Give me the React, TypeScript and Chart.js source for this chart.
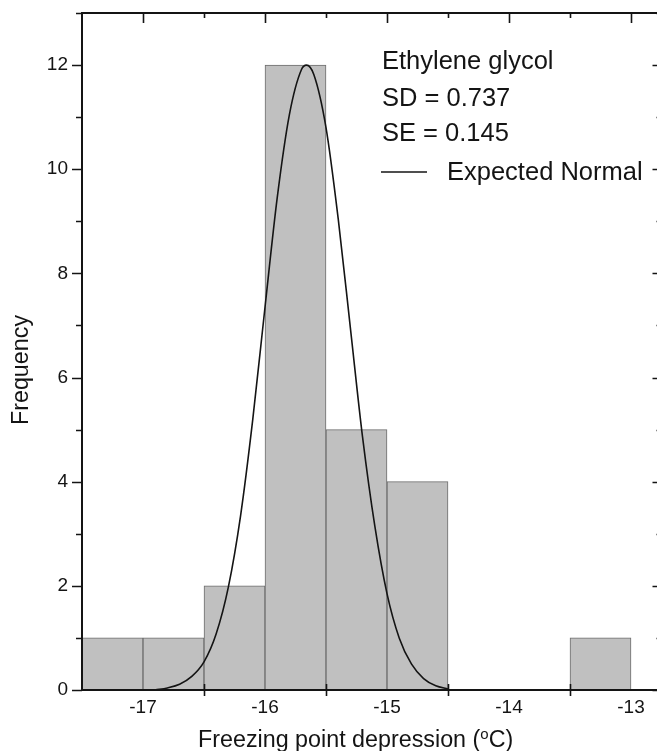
import React, { useEffect, useRef } from 'react';
import { Chart, registerables } from 'chart.js';

Chart.register(...registerables);

// Histogram bins (bin centres, width 0.5 °C) and counts
const binCenters = [-17.25, -16.75, -16.25, -15.75, -15.25, -14.75, -14.25, -13.75, -13.25];
const binCounts = [1, 1, 2, 12, 5, 4, 0, 0, 1];

// Expected normal curve
const curveX = [-16.9, -16.8, -16.7, -16.6, -16.5, -16.4, -16.3, -16.2, -16.1, -16.0, -15.9, -15.8, -15.7, -15.66, -15.6, -15.5, -15.4, -15.3, -15.2, -15.1, -15.0, -14.9, -14.8, -14.7, -14.6, -14.5];
const curveY = [0.0, 0.04, 0.11, 0.26, 0.54, 1.08, 1.98, 3.35, 5.2, 7.35, 9.45, 11.05, 11.92, 12.0, 11.82, 10.8, 9.05, 6.95, 4.85, 3.15, 1.85, 1.0, 0.5, 0.22, 0.08, 0.02];

const xMin = -17.5;
const xMax = -12.75;
const yMin = 0;
const yMax = 13;

const legendLines = ['Ethylene glycol', 'SD = 0.737', 'SE = 0.145'];
const curveLabel = 'Expected Normal';
const xTitleMain = 'Freezing point depression (';
const xTitleSup = 'o';
const xTitleEnd = 'C)';
const yTitle = 'Frequency';

const FONT = '"Liberation Sans", Arial, Helvetica, sans-serif';
const INK = '#141414';

const framePlugin = {
  id: 'framePlugin',
  afterDatasetsDraw(chart: any) {
    const { ctx, chartArea, scales } = chart;
    const xs = scales.x;
    const ys = scales.y;
    const { left, right, top, bottom } = chartArea;
    ctx.save();
    ctx.strokeStyle = INK;
    ctx.lineWidth = 2;
    ctx.lineCap = 'butt';
    // frame
    ctx.beginPath();
    ctx.moveTo(left, top);
    ctx.lineTo(right, top);
    ctx.moveTo(right, top);
    ctx.lineTo(right, bottom);
    ctx.moveTo(left - 1, bottom);
    ctx.lineTo(right, bottom);
    ctx.moveTo(left, top - 1);
    ctx.lineTo(left, bottom + 1);
    ctx.stroke();

    ctx.lineWidth = 1.6;
    ctx.beginPath();
    // y ticks: left outward, right inward
    for (let v = yMin; v <= yMax; v += 1) {
      const py = Math.round(ys.getPixelForValue(v)) + 0.5;
      const major = v % 2 === 0;
      const len = major ? 10 : 6;
      ctx.moveTo(left - len, py);
      ctx.lineTo(left, py);
      ctx.moveTo(right, py);
      ctx.lineTo(right - (major ? 9 : 5), py);
    }
    // x ticks: top inward, bottom crossing at half values
    for (let v = xMin + 0.5; v < xMax; v += 0.5) {
      const px = Math.round(xs.getPixelForValue(v)) + 0.5;
      const major = Math.abs(v - Math.round(v)) < 1e-6;
      ctx.moveTo(px, top);
      ctx.lineTo(px, top + (major ? 10 : 5));
      if (!major) {
        ctx.moveTo(px, bottom - 6);
        ctx.lineTo(px, bottom + 6);
      }
    }
    ctx.stroke();

    // legend block
    ctx.fillStyle = INK;
    ctx.font = `25.5px ${FONT}`;
    ctx.textAlign = 'left';
    ctx.textBaseline = 'alphabetic';
    const baselines = [69, 106, 141];
    legendLines.forEach((t, i) => ctx.fillText(t, 382, baselines[i]));
    ctx.lineWidth = 1.5;
    ctx.beginPath();
    ctx.moveTo(381, 172);
    ctx.lineTo(427, 172);
    ctx.stroke();
    ctx.fillText(curveLabel, 447, 180);

    // x axis title with superscript
    ctx.font = `23.3px ${FONT}`;
    let x0 = 198;
    const base = 747;
    ctx.fillText(xTitleMain, x0, base);
    x0 += ctx.measureText(xTitleMain).width;
    ctx.font = `15px ${FONT}`;
    ctx.fillText(xTitleSup, x0, base - 8);
    x0 += ctx.measureText(xTitleSup).width;
    ctx.font = `23.3px ${FONT}`;
    ctx.fillText(xTitleEnd, x0, base);

    // y axis title
    ctx.save();
    ctx.translate(28, 370);
    ctx.rotate(-Math.PI / 2);
    ctx.textAlign = 'center';
    ctx.fillText(yTitle, 0, 0);
    ctx.restore();

    ctx.restore();
  },
};

export default function App() {
  const canvasRef = useRef<HTMLCanvasElement | null>(null);

  useEffect(() => {
    const canvas = canvasRef.current;
    if (!canvas) return;
    const barData = binCenters.map((x, i) => ({ x, y: binCounts[i] > 0 ? binCounts[i] : null }));
    const lineData = curveX.map((x, i) => ({ x, y: curveY[i] }));
    const chart = new Chart(canvas, {
      type: 'bar',
      data: {
        datasets: [
          {
            type: 'line',
            label: curveLabel,
            data: lineData as any,
            borderColor: INK,
            borderWidth: 1.6,
            pointRadius: 0,
            cubicInterpolationMode: 'monotone',
            fill: false,
            order: 0,
          } as any,
          {
            type: 'bar',
            label: 'Frequency',
            data: barData as any,
            backgroundColor: '#c0c0c0',
            borderColor: '#6c6c6c',
            borderWidth: 1,
            barPercentage: 1,
            categoryPercentage: 1,
            order: 1,
          } as any,
        ],
      },
      options: {
        animation: false,
        responsive: false,
        devicePixelRatio: 1,
        layout: { padding: { top: 13, right: 8.5, left: 0, bottom: 0 } },
        plugins: {
          legend: { display: false },
          tooltip: { enabled: false },
        },
        scales: {
          x: {
            type: 'linear',
            min: xMin,
            max: xMax,
            offset: false,
            grid: { display: false, drawTicks: false },
            border: { display: false },
            ticks: {
              stepSize: 0.5,
              includeBounds: false,
              autoSkip: false,
              maxRotation: 0,
              padding: 6,
              color: INK,
              font: { family: FONT, size: 19 },
              callback: (v: any) => (Math.abs(v - Math.round(v)) < 1e-6 ? String(Math.round(v)) : ''),
            },
            afterFit: (s: any) => {
              s.height = 66;
              s.paddingLeft = 0;
              s.paddingRight = 0;
            },
          },
          y: {
            type: 'linear',
            min: yMin,
            max: yMax,
            grid: { display: false, drawTicks: false },
            border: { display: false },
            ticks: {
              stepSize: 1,
              autoSkip: false,
              padding: 14,
              color: INK,
              font: { family: FONT, size: 19 },
              callback: (v: any) => (v % 2 === 0 ? String(v) : ''),
            },
            afterFit: (s: any) => {
              s.width = 82;
              s.paddingTop = 0;
              s.paddingBottom = 0;
            },
          },
        },
      },
      plugins: [framePlugin],
    });
    return () => chart.destroy();
  }, []);

  return (
    <div style={{ position: 'absolute', left: 0, top: 0, width: 657, height: 751, overflow: 'hidden', background: '#ffffff' }}>
      <canvas ref={canvasRef} width={670} height={756} style={{ display: 'block' }} />
    </div>
  );
}
